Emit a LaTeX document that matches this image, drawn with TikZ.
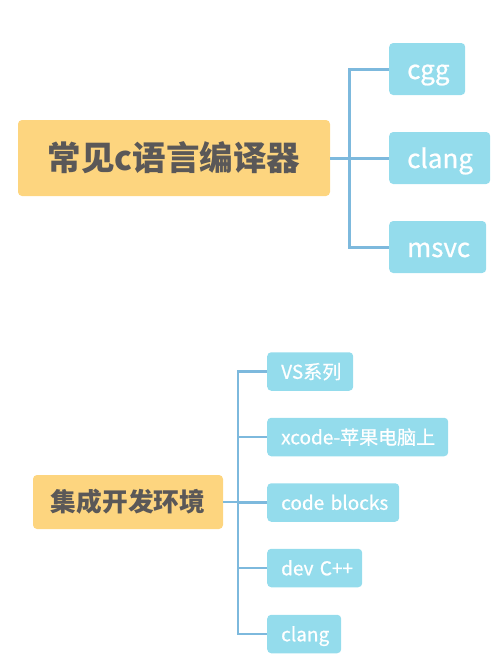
\documentclass[tikz,border=0pt]{standalone}
\usepackage{fontspec}
\setmainfont{Noto Sans CJK SC}
\newfontfamily\childfont[FakeBold=0.8]{Noto Sans CJK SC}
\definecolor{mainfill}{HTML}{FDD57F}
\definecolor{maintext}{HTML}{5A5858}
\definecolor{childfill}{HTML}{94DCEC}
\definecolor{linkcol}{HTML}{7DB9DD}
\tikzset{
  mainbox/.style={fill=mainfill, rounded corners=4pt, text=maintext, inner sep=0pt, align=center},
  childbox/.style={fill=childfill, rounded corners=4pt, text=white, inner ysep=0pt, anchor=west, align=left, text depth=0pt},
  bigchild/.style={childbox, font=\childfont\fontsize{26}{30}\selectfont, inner xsep=18pt, minimum height=52pt, text height=20pt},
  smallchild/.style={childbox, font=\childfont\fontsize{19}{23}\selectfont, inner xsep=14pt, minimum height=38.5pt, text height=14.6pt},
  link/.style={draw=linkcol},
}
\begin{document}
\begin{tikzpicture}[x=1pt,y=-1pt]
\useasboundingbox (0,0) rectangle (500,657);
% top
\node[mainbox, minimum width=312pt, minimum height=76pt, font=\fontsize{33.5}{38}\selectfont\bfseries] (m1) at (174,158) {常见c语言编译器};
\node[bigchild, text width=40pt] (cgg) at (389,69) {\mbox{cgg}};
\node[bigchild, text width=65pt] (clang1) at (389,158) {\mbox{clang}};
\node[bigchild, text width=61pt] (msvc) at (389,247) {\mbox{msvc}};
\foreach \c in {cgg,clang1,msvc}
  \draw[link, line width=3pt] (m1.east) -- ++(19,0) |- (\c.west);
% bottom
\node[mainbox, minimum width=190pt, minimum height=54pt, font=\fontsize{25.7}{30}\selectfont\bfseries] (m2) at (128,502) {集成开发环境};
\node[smallchild, text width=58pt] (vs) at (267,371.5) {\mbox{VS系列}};
\node[smallchild, text width=153pt] (xcode) at (267,437) {\mbox{xcode-苹果电脑上}};
\node[smallchild, text width=104pt] (cb) at (267,502.5) {\mbox{code blocks}};
\node[smallchild, text width=67pt] (dev) at (267,568) {\mbox{dev C++}};
\node[smallchild, text width=46pt] (clang2) at (267,634) {\mbox{clang}};
\foreach \c in {vs,xcode,cb,dev,clang2}
  \draw[link, line width=2.2pt] (m2.east) -- ++(15,0) |- (\c.west);
\end{tikzpicture}
\end{document}
